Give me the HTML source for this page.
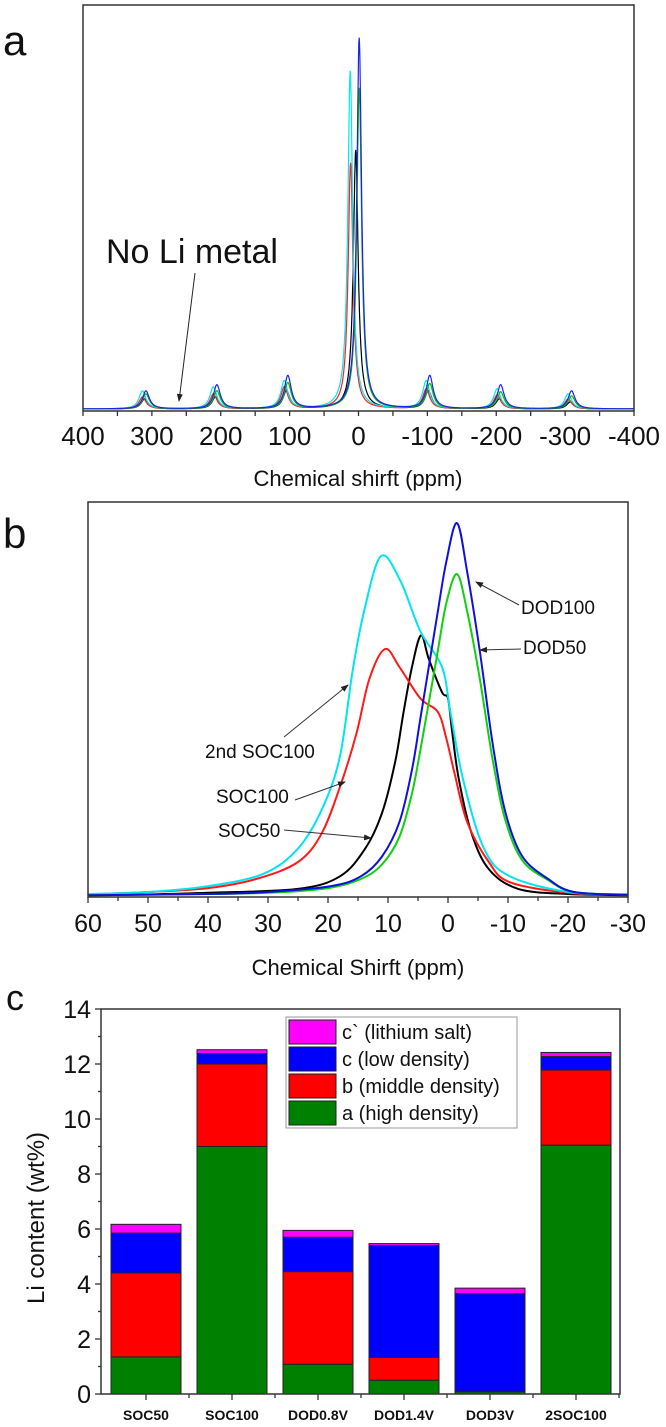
<!DOCTYPE html>
<html><head><meta charset="utf-8"><style>
body{margin:0;background:#fff;}
svg{display:block;font-family:"Liberation Sans",Arial,sans-serif;}
</style></head><body>
<svg id="fig" width="666" height="1427" viewBox="0 0 666 1427">
<g id="pa"></g>
<g id="pb"></g>
<g id="pc"></g>
</svg>
<script>
// ---------- Panel a data ----------
const aSeries = ["SOC50","SOC100","2nd SOC100","DOD50","DOD100"];
const aColors = ["#000000","#ff2020","#00e8f0","#00c000","#2020ee"];
const aCenters = [4, 11.5, 12, -1, -1];
const aHeights = [259, 246, 338, 321, 371]; // main peak intensities
const aSidebands = [ // at +300,+200,+100,-100,-200,-300
 [10,12,18,18,10,7],[12,15,22,20,14,10],[18,22,28,28,20,15],[15,18,26,25,17,13],[18,24,33,33,24,18]];
const aSbOffsets = [300,200,100,-100,-200,-300];
const aTicks = [400,300,200,100,0,-100,-200,-300,-400];

// ---------- Panel b data ----------
const bSeries = ["SOC50","SOC100","2nd SOC100","DOD50","DOD100"];
const bColors = ["#000000","#ff1a1a","#00e5f0","#10d010","#1010dd"];
const bX = [
 [60,50,40,25,18,13.8,11,8.8,7.4,6,4.5,3.2,1,0,-0.7,-1.8,-3.9,-6.8,-11.7,-20,-30],
 [60,50,40,32,25,21,17.7,15.2,13.1,10.5,8.1,4.6,1.7,0.3,-1.1,-3.2,-6.8,-10.3,-20,-30],
 [60,50,40,30.8,25,21,18,15.9,14,11.2,8,4.6,1,-0.4,-2.5,-6,-10.3,-20,-30],
 [60,40,30,20,14.5,11,8.1,6,4.6,3.2,1.7,0.3,-1.5,-3.2,-5.3,-7.5,-9.6,-12.4,-16.7,-21,-30],
 [60,40,30,19.5,14.5,11,8.1,6,4.6,3.2,1.7,0.3,-1.5,-3.2,-5.3,-7.5,-9.6,-12.4,-16.7,-21,-30]];
const bY = [
 [0.2,0.4,0.8,1.8,5,12,21,34,46.6,58,66,60,51.6,50,41.5,29.6,16,6.8,1.8,0.5,0.2],
 [0.4,1,2,4.3,8.6,16,29,41.5,55,62.5,58,50,46.6,40,31,18.7,8.6,3.5,0.8,0.3],
 [0.5,1,2.5,5.6,12,22,35.4,57,72,86,80,67,58,46.6,29.6,12,5,1,0.4],
 [0.2,0.5,0.8,2,4.3,8,15,26,37,49,62,74,81.5,72,55,34,19,9,4,1,0.3],
 [0.2,0.5,1,2.5,5,10,18.7,32,45,58,72,84.5,94.4,82,62,38,21,10,4.3,1,0.3]];
const bTicks = [60,50,40,30,20,10,0,-10,-20,-30];

// ---------- Panel c data ----------
const cCategories = ["SOC50","SOC100","DOD0.8V","DOD1.4V","DOD3V","2SOC100"];
const cHigh   = [1.35, 9.0, 1.08, 0.5, 0.08, 9.05];
const cMiddle = [3.05, 3.0, 3.37, 0.83, 0.02, 2.73];
const cLow    = [1.45, 0.38, 1.25, 4.07, 3.55, 0.49];
const cSalt   = [0.32, 0.14, 0.25, 0.07, 0.2, 0.15];
const cYTicks = [0,2,4,6,8,10,12,14];
const cLegend = ["c` (lithium salt)","c (low density)","b (middle density)","a (high density)"];

const NS="http://www.w3.org/2000/svg";
function mk(parent,tag,attrs,text){const e=document.createElementNS(NS,tag);for(const k in attrs)e.setAttribute(k,attrs[k]);if(text!==undefined)e.textContent=text;parent.appendChild(e);return e;}

const defs=mk(document.getElementById('fig'),'defs',{});
const mkr=mk(defs,'marker',{id:'arr',markerWidth:'8',markerHeight:'8',refX:'7',refY:'4',orient:'auto',markerUnits:'userSpaceOnUse'});
mk(mkr,'path',{d:'M0,1 L8,4 L0,7 Z',fill:'#222'});

// ---------- Panel a ----------
(function(){
 const g=document.getElementById('pa');
 const L=83,R=634,T=5,B=411;
 const xs=v=>L+(400-v)*(R-L)/800;
 const ys=v=>409-v;
 function lor(x,c,h,w){return h*w*w/((x-c)*(x-c)+w*w);}
 for(let s=0;s<aSeries.length;s++){
  let pts=[];
  for(let x=400;x>=-400;x-=0.5){
   let y=lor(x,aCenters[s],aHeights[s],4.2);
   for(let k=0;k<aSbOffsets.length;k++) y+=lor(x,aCenters[s]*0.4+aSbOffsets[k]*1.03,aSidebands[s][k],6);
   pts.push(xs(x).toFixed(1)+','+ys(y).toFixed(1));
  }
  const p=mk(g,'polyline',{points:pts.join(' '),fill:'none',stroke:aColors[s],'stroke-width':'1.2'});
  
  
 }
 const fr=mk(g,'rect',{x:L,y:T,width:R-L,height:B-T,fill:'none',stroke:'#333','stroke-width':'1.5'});
 
 for(let v=400;v>=-400;v-=50){mk(g,'line',{x1:xs(v),x2:xs(v),y1:B,y2:B+5,stroke:'#333','stroke-width':'1.3'});}
 aTicks.forEach(v=>{const t=mk(g,'text',{x:xs(v),y:445,'font-size':'26','text-anchor':'middle',fill:'#111'},String(v));
  });
 const ti=mk(g,'text',{x:358,y:486,'font-size':'22','text-anchor':'middle',fill:'#111'},'Chemical shirft (ppm)');
 
 const pl=mk(g,'text',{x:3,y:55,'font-size':'42',fill:'#111'},'a');
 
 const nl=mk(g,'text',{x:106,y:263,'font-size':'34',fill:'#111'},'No Li metal');
 
 mk(g,'line',{x1:195,y1:273,x2:179,y2:401,stroke:'#222','stroke-width':'1','marker-end':'url(#arr)'});
})();

// ---------- Panel b ----------
function smoothPath(P){
 let d='M'+P[0][0].toFixed(1)+','+P[0][1].toFixed(1);
 for(let i=0;i<P.length-1;i++){
  const p0=P[Math.max(0,i-1)],p1=P[i],p2=P[i+1],p3=P[Math.min(P.length-1,i+2)];
  const c1=[p1[0]+(p2[0]-p0[0])/6,p1[1]+(p2[1]-p0[1])/6];
  const c2=[p2[0]-(p3[0]-p1[0])/6,p2[1]-(p3[1]-p1[1])/6];
  d+=' C'+c1[0].toFixed(1)+','+c1[1].toFixed(1)+' '+c2[0].toFixed(1)+','+c2[1].toFixed(1)+' '+p2[0].toFixed(1)+','+p2[1].toFixed(1);
 }
 return d;
}
(function(){
 const g=document.getElementById('pb');
 const L=88,R=628,T=502,B=897;
 const xs=v=>L+(60-v)*(R-L)/90;
 const ys=v=>896-v*3.95;
 for(let s=0;s<bSeries.length;s++){
  const P=bX[s].map((x,i)=>[xs(x),ys(bY[s][i])]);
  const p=mk(g,'path',{d:smoothPath(P),fill:'none',stroke:bColors[s],'stroke-width':'2','stroke-linejoin':'round'});
  
  
 }
 const fr=mk(g,'rect',{x:L,y:T,width:R-L,height:B-T,fill:'none',stroke:'#333','stroke-width':'1.5'});
 
 for(let v=60;v>=-30;v-=5){mk(g,'line',{x1:xs(v),x2:xs(v),y1:B,y2:B+(v%10===0?6:4),stroke:'#333','stroke-width':'1.3'});}
 bTicks.forEach(v=>{const t=mk(g,'text',{x:xs(v),y:932,'font-size':'25','text-anchor':'middle',fill:'#111'},String(v));
  });
 const ti=mk(g,'text',{x:358,y:975,'font-size':'22','text-anchor':'middle',fill:'#111'},'Chemical Shirft (ppm)');
 
 const pl=mk(g,'text',{x:3,y:548,'font-size':'42',fill:'#111'},'b');
 
 const ann=[["DOD100",521,614,519,605,476,582],["DOD50",523,654,521,649,480,650],["2nd SOC100",205,758,284,737,348,685],["SOC100",216,803,295,800,345,782],["SOC50",218,837,284,830,371,838]];
 ann.forEach(a=>{const t=mk(g,'text',{x:a[1],y:a[2],'font-size':'19',fill:'#111'},a[0]);
  
  mk(g,'line',{x1:a[3],y1:a[4],x2:a[5],y2:a[6],stroke:'#333','stroke-width':'1','marker-end':'url(#arr)'});});
})();

// ---------- Panel c ----------
(function(){
 const g=document.getElementById('pc');
 const L=101,R=620,T=1009,B=1394;
 const ys=v=>B-v*(B-T)/14;
 const xc=i=>146+i*86;
 const bw=70;
 const segs=[cHigh,cMiddle,cLow,cSalt];
 const cols=["#008000","#ff0000","#0000ff","#ff00ff"];
 const names=["high-density","middle-density","low-density","lithium-salt"];
 cCategories.forEach((c,i)=>{
  let base=0;
  segs.forEach((arr,k)=>{
   const v=arr[i];
   const r=mk(g,'rect',{x:xc(i)-bw/2,y:ys(base+v),width:bw,height:ys(base)-ys(base+v),fill:cols[k],stroke:'#222','stroke-width':'1'});
   
   
   base+=v;
  });
  const t=mk(g,'text',{x:xc(i),y:1420,'font-size':'14','font-weight':'bold','text-anchor':'middle',fill:'#111'},c);
  
  mk(g,'line',{x1:xc(i),x2:xc(i),y1:B,y2:B+6,stroke:'#333','stroke-width':'1.3'});
  mk(g,'line',{x1:xc(i)+43,x2:xc(i)+43,y1:B,y2:B+4,stroke:'#333','stroke-width':'1.3'});
 });
 const fr=mk(g,'rect',{x:L,y:T,width:R-L,height:B-T,fill:'none',stroke:'#333','stroke-width':'1.5'});
 
 for(let v=0;v<=14;v++){mk(g,'line',{x1:L,x2:L-(v%2===0?6:3),y1:ys(v),y2:ys(v),stroke:'#333','stroke-width':'1.3'});}
 cYTicks.forEach(v=>{const t=mk(g,'text',{x:91,y:ys(v)+9,'font-size':'25','text-anchor':'end',fill:'#111'},String(v));
  });
 const yt=mk(g,'text',{x:0,y:0,'font-size':'24','text-anchor':'middle',fill:'#111',transform:'translate(44,1218) rotate(-90)'},'Li content (wt%)');
 
 const pl=mk(g,'text',{x:6,y:1010,'font-size':'36',fill:'#111'},'c');
 
 const lg=mk(g,'g',{});
 
 mk(lg,'rect',{x:286,y:1017,width:231,height:111,fill:'#fff',stroke:'#999','stroke-width':'1'});
 const lcols=["#ff00ff","#0000ff","#ff0000","#008000"];
 cLegend.forEach((s,k)=>{
  const y=1020+k*27;
  const sw=mk(lg,'rect',{x:289,y:y,width:47,height:24,fill:lcols[k],stroke:'#222','stroke-width':'1'});
  
  const t=mk(lg,'text',{x:342,y:y+19,'font-size':'20',fill:'#111'},s);
  
 });
})();
</script>
</body></html>
